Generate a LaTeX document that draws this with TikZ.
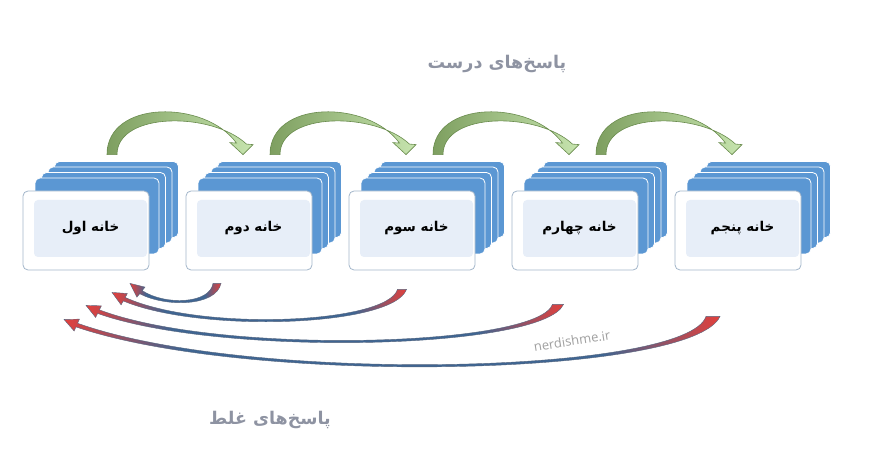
\documentclass[tikz,border=0pt]{standalone}
\usepackage{fontspec}
\usetikzlibrary{calc}
\TeXXeTstate=1
\newfontfamily\farsifont[Script=Arabic]{DejaVu Sans}
\newfontfamily\sitefont{Open Sans}
\definecolor{cardblue}{HTML}{5B97D3}
\definecolor{cardedge}{HTML}{A3B6CA}
\definecolor{cardfill}{HTML}{E7EEF8}
\definecolor{gooddark}{HTML}{7E9F60}
\definecolor{goodlight}{HTML}{C6E4AE}
\definecolor{goodedge}{HTML}{6A8C4E}
\definecolor{badred}{HTML}{E2403C}
\definecolor{badblue}{HTML}{3F6592}
\definecolor{badedge}{HTML}{56657E}
\definecolor{titlegray}{HTML}{8E93A2}
\pgfdeclarehorizontalshading{badshading}{100bp}{color(0bp)=(badred); color(25bp)=(badred); color(34bp)=(badblue); color(66bp)=(badblue); color(75bp)=(badred); color(100bp)=(badred)}

\tikzset{
  backcard/.style={draw=white, line width=0.8pt, fill=cardblue, rounded corners=5pt},
  frontcard/.style={draw=cardedge, line width=0.8pt, fill=white, rounded corners=5pt, minimum width=126pt, minimum height=79pt, inner sep=0pt},
  innercard/.style={fill=cardfill, rounded corners=4pt, minimum width=113pt, minimum height=57pt, inner sep=0pt, font=\farsifont\bfseries\fontsize{13.5}{16}\selectfont},
  goodarrow/.style={draw=goodedge, line width=0.6pt, left color=gooddark, right color=goodlight},
  badarrow/.style={draw=badedge, line width=0.4pt, shade, shading=badshading},
  title/.style={text=titlegray, font=\farsifont\bfseries\fontsize{17.5}{20}\selectfont},
}

% #1 name, #2 left of front card, #3 label
\newcommand{\cardstack}[3]{%
  \foreach \k in {3,2,1,0}
    \draw[backcard] ({#2+12+6.5*\k},{296+5.5*\k}) rectangle ++(124,-76);
  \node[frontcard] (#1) at ({#2+63},243.5) {};
  \node[innercard] (#1txt) at ({#2+67.5},245.5) {#3};
}

% #1 from card, #2 to card
\newcommand{\goodarc}[2]{%
  \coordinate (t) at ($(#1.north)+(26,36)$);
  \coordinate (h) at ($(#2.north)+(-6,36)$);
  \path[goodarrow] ($(t)+(-5,0)$) .. controls ($(t)+(-5,55)$) and ($(h)+(-38,55)$) .. ($(h)+(-6.5,11.5)$)
    -- ($(h)+(-13,12)$) -- (h) -- ($(h)+(10,10)$) -- ($(h)+(3.5,10.5)$)
    .. controls ($(h)+(-31,43)$) and ($(t)+(5,43)$) .. ($(t)+(5,0)$) -- cycle;
}

% #1 from card, #2 tail, #3 tip, #4 first control, #5 second control, #6 head angle, #7 tail half width
\newcommand{\badarc}[7]{%
  \coordinate (t) at ($(#1.south)+(#2)$);
  \coordinate (h) at ($(b1.south)+(#3)$);
  \coordinate (b) at ($(h)+(#6:14)$);
  \path[badarrow] ($(t)+(#7,0)$) .. controls ($(t)+(#4)+(3,-1.5)$) and ($(h)+(#5)+(0,-0.8)$) .. ($(b)+({#6-90}:2)$)
    -- ($(b)+({#6-90}:6.5)$) -- (h) -- ($(b)+({#6+90}:6.5)$) -- ($(b)+({#6+90}:2)$)
    .. controls ($(h)+(#5)+(0,0.8)$) and ($(t)+(#4)+(-3,1.5)$) .. ($(t)+(-#7,0)$) -- cycle;
}

\begin{document}
\begin{tikzpicture}[x=1pt,y=1pt]
    \useasboundingbox (0,0) rectangle (883,474);
    %draw cards
    \cardstack{b1}{23}{\beginR خانه اول\endR}
    \cardstack{b2}{186}{\beginR خانه دوم\endR}
    \cardstack{b3}{349}{\beginR خانه سوم\endR}
    \cardstack{b4}{512}{\beginR خانه چهارم\endR}
    \cardstack{b5}{675}{\beginR خانه پنجم\endR}
    %draw right answers
    \goodarc{b1}{b2}
    \goodarc{b2}{b3}
    \goodarc{b3}{b4}
    \goodarc{b4}{b5}
    %draw wrong answers
    \badarc{b2}{-32,-13}{44,-13}{-4,-22}{35,-23}{-38.7}{4}
    \badarc{b3}{-10,-19}{26,-22}{-12,-36}{88,-40}{-29}{4.5}
    \badarc{b4}{-17,-34}{0,-35}{-18,-44}{134,-51}{-26.5}{5.5}
    \badarc{b5}{-25,-46}{-22,-49}{-23,-59}{186,-66}{-24}{7}
    %draw titles
    \node[title] (good) at (497,410) {\beginR پاسخ‌های درست\endR};
    \node[title] (bad) at (270,54) {\beginR پاسخ‌های غلط\endR};
    \node[text=gray!75, font=\sitefont\fontsize{13}{15}\selectfont, rotate=9] (site) at (572,133) {nerdishme.ir};
\end{tikzpicture}
\end{document}
